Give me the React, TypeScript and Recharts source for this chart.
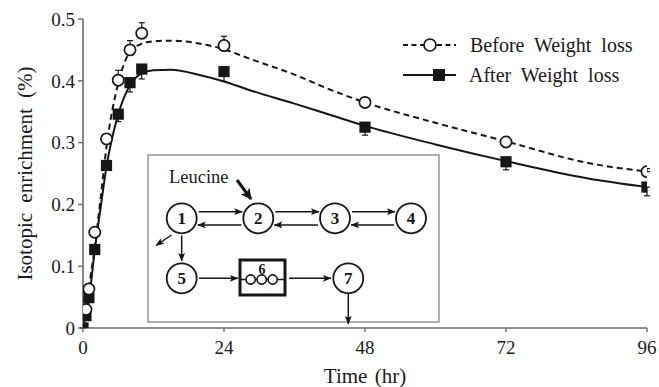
import React from 'react';
import {
  ComposedChart,
  Line,
  Scatter,
  XAxis,
  YAxis,
  ErrorBar,
  Legend,
  Customized,
} from 'recharts';

// ---- data ----
const beforeTimes = [0.5, 1, 2, 4, 6, 8, 10, 24, 48, 72, 96];
const beforeMean = [0.03, 0.063, 0.155, 0.306, 0.401, 0.45, 0.477, 0.457, 0.365, 0.301, 0.253];
const beforeErrUp = [0.004, 0.004, 0.005, 0.006, 0.016, 0.015, 0.017, 0.015, 0.006, 0.005, 0.005];

const afterTimes = [0, 0.5, 1, 2, 4, 6, 8, 10, 24, 48, 72, 96];
const afterMean = [0, 0.02, 0.049, 0.127, 0.263, 0.346, 0.397, 0.419, 0.415, 0.325, 0.269, 0.228];
const afterErrDown = [0, 0.004, 0.005, 0.006, 0.008, 0.012, 0.015, 0.016, 0.016, 0.013, 0.013, 0.014];

const fitTimes = [0, 0.5, 1, 2, 3, 4, 6, 8, 10, 12, 15, 20, 24, 28, 36, 42, 48, 60, 72, 86, 96];
const beforeFit = [0, 0.03, 0.065, 0.13, 0.21, 0.293, 0.396, 0.447, 0.46, 0.464, 0.465, 0.46, 0.451, 0.437, 0.41, 0.386, 0.365, 0.332, 0.302, 0.267, 0.253];
const afterFit = [0, 0.02, 0.045, 0.126, 0.195, 0.261, 0.346, 0.393, 0.412, 0.417, 0.418, 0.409, 0.399, 0.386, 0.363, 0.345, 0.327, 0.297, 0.27, 0.242, 0.228];

const xTicks = [0, 24, 48, 72, 96];
const yTicks = [0, 0.1, 0.2, 0.3, 0.4, 0.5];

const seriesNames = ['Before Weight loss', 'After Weight loss'];

// ---- tables built from the arrays ----
const beforePts = beforeTimes.map((t, i) => ({ t, v: beforeMean[i], err: [0, beforeErrUp[i]] }));
const afterPts = afterTimes.map((t, i) => ({ t, v: afterMean[i], err: [afterErrDown[i], 0] }));
const beforeCurve = fitTimes.map((t, i) => ({ t, v: beforeFit[i] }));
const afterCurve = fitTimes.map((t, i) => ({ t, v: afterFit[i] }));

const FONT = '"Liberation Serif", "Times New Roman", serif';
const INK = '#161616';
const AXIS = '#6a6a6a';

const OpenCircle = (p: any) => (
  <circle cx={p.cx} cy={p.cy} r={5.6} fill="#fff" stroke={INK} strokeWidth={1.7} />
);
const FilledSquare = (p: any) => (
  <rect x={p.cx - 5.6} y={p.cy - 5.6} width={11.2} height={11.2} fill={INK} />
);

const LegendContent = () => (
  <div style={{ position: 'relative', width: 259, height: 60, fontFamily: FONT }}>
    <svg width={56} height={26} style={{ position: 'absolute', left: 3, top: 0 }}>
      <line x1={0} y1={13} x2={53} y2={13} stroke={INK} strokeWidth={1.8} strokeDasharray="5 3.5" />
      <circle cx={27} cy={13} r={6} fill="#fff" stroke={INK} strokeWidth={1.7} />
    </svg>
    <span
      style={{
        position: 'absolute',
        left: 70,
        top: 0,
        lineHeight: '26px',
        fontSize: 20,
        color: '#1a1a1a',
        wordSpacing: 5,
        whiteSpace: 'nowrap',
      }}
    >
      {seriesNames[0]}
    </span>
    <svg width={56} height={26} style={{ position: 'absolute', left: 3, top: 30 }}>
      <line x1={0} y1={13} x2={53} y2={13} stroke={INK} strokeWidth={2.2} />
      <rect x={30} y={7} width={12} height={12} fill={INK} />
    </svg>
    <span
      style={{
        position: 'absolute',
        left: 69,
        top: 30,
        lineHeight: '26px',
        fontSize: 20,
        color: '#1a1a1a',
        wordSpacing: 5,
        whiteSpace: 'nowrap',
      }}
    >
      {seriesNames[1]}
    </span>
  </div>
);

const Node = ({ cx, cy, label }: { cx: number; cy: number; label: string }) => (
  <g>
    <circle cx={cx} cy={cy} r={15} fill="#fff" stroke={INK} strokeWidth={1.8} />
    <text
      x={cx}
      y={cy + 6}
      textAnchor="middle"
      fontFamily={FONT}
      fontWeight="bold"
      fontSize={17}
      fill={INK}
    >
      {label}
    </text>
  </g>
);

const Arrow = ({ x1, y1, x2, y2, w = 1.5, big = false }: any) => (
  <line
    x1={x1}
    y1={y1}
    x2={x2}
    y2={y2}
    stroke={INK}
    strokeWidth={w}
    markerEnd={big ? 'url(#arrowBig)' : 'url(#arrowSmall)'}
  />
);

const InsetDiagram = () => {
  const rowY = 218.3;
  const row2Y = 278.3;
  const cxs = [181.7, 258.3, 335, 411];
  const pairs = [0, 1, 2];
  return (
    <g>
      <defs>
        <marker id="arrowSmall" markerUnits="userSpaceOnUse" markerWidth={9} markerHeight={8} refX={8} refY={4} orient="auto">
          <path d="M0,0.6 L8.5,4 L0,7.4 L1.8,4 Z" fill={INK} />
        </marker>
        <marker id="arrowBig" markerUnits="userSpaceOnUse" markerWidth={12} markerHeight={11} refX={10} refY={5.5} orient="auto">
          <path d="M0,0 L11,5.5 L0,11 L2.5,5.5 Z" fill={INK} />
        </marker>
      </defs>
      <rect x={148} y={155} width={291} height={167} fill="#fff" stroke="#7a7a7a" strokeWidth={1.2} />
      <text x={169} y={182.5} fontFamily={FONT} fontSize={18.5} fill="#1a1a1a">
        Leucine
      </text>
      <Arrow x1={237} y1={180} x2={251} y2={199} w={3} big />
      {pairs.map((i) => (
        <g key={i}>
          <Arrow x1={cxs[i] + 17} y1={rowY - 6.6} x2={cxs[i + 1] - 16} y2={rowY - 6.6} />
          <Arrow x1={cxs[i + 1] - 17} y1={rowY + 6.6} x2={cxs[i] + 16} y2={rowY + 6.6} />
        </g>
      ))}
      {cxs.map((cx, i) => (
        <Node key={i} cx={cx} cy={rowY} label={String(i + 1)} />
      ))}
      <Arrow x1={171.5} y1={235} x2={156} y2={245.5} />
      <Arrow x1={cxs[0]} y1={235.5} x2={cxs[0]} y2={261} />
      <Node cx={cxs[0]} cy={row2Y} label="5" />
      <Arrow x1={199} y1={row2Y} x2={238} y2={row2Y} />
      <rect x={240} y={260} width={45} height={35} fill="#fff" stroke={INK} strokeWidth={3} />
      <line x1={240} y1={279.5} x2={285} y2={279.5} stroke={INK} strokeWidth={1.3} />
      {[250.7, 261.7, 272.7].map((x) => (
        <circle key={x} cx={x} cy={279.5} r={4.6} fill="#fff" stroke={INK} strokeWidth={1.6} />
      ))}
      <text x={262} y={274} textAnchor="middle" fontFamily={FONT} fontWeight="bold" fontSize={14} fill={INK}>
        6
      </text>
      <Arrow x1={289} y1={row2Y} x2={331} y2={row2Y} />
      <Node cx={348.3} cy={row2Y} label="7" />
      <Arrow x1={348.3} y1={294} x2={348.3} y2={324} />
    </g>
  );
};

const YTitle = (props: any) => {
  const vb = props.viewBox || { y: 19, height: 309 };
  const cy = vb.y + vb.height / 2;
  return (
    <text
      x={25}
      y={cy}
      transform={`rotate(-90, 25, ${cy})`}
      textAnchor="middle"
      dominantBaseline="central"
      fontFamily={FONT}
      fontSize={21}
      fill="#1a1a1a"
      style={{ wordSpacing: 5 }}
    >
      Isotopic enrichment (%)
    </text>
  );
};

const XTitle = (props: any) => {
  const vb = props.viewBox || { x: 83, width: 564 };
  const cx = vb.x + vb.width / 2;
  return (
    <text x={cx} y={383} textAnchor="middle" fontFamily={FONT} fontSize={21} fill="#1a1a1a" style={{ wordSpacing: 2 }}>
      Time (hr)
    </text>
  );
};

export default function App() {
  return (
    <div style={{ position: 'absolute', left: 0, top: 0, width: 659, height: 387, background: '#fff' }}>
      <ComposedChart
        width={659}
        height={387}
        margin={{ top: 19, right: 12, bottom: 0, left: 0 }}
        style={{ fontFamily: FONT }}
      >
        <XAxis
          dataKey="t"
          type="number"
          domain={[0, 96]}
          ticks={xTicks}
          allowDataOverflow
          height={59}
          tickSize={4}
          tickMargin={9}
          axisLine={{ stroke: AXIS, strokeWidth: 1.6 }}
          tickLine={{ stroke: AXIS, strokeWidth: 1.4 }}
          tick={{ fill: '#1a1a1a', fontSize: 19, fontFamily: FONT }}
          label={{ content: XTitle }}
        />
        <YAxis
          type="number"
          domain={[0, 0.5]}
          ticks={yTicks}
          allowDataOverflow
          width={83}
          tickSize={5}
          tickMargin={3}
          axisLine={{ stroke: AXIS, strokeWidth: 1.6 }}
          tickLine={{ stroke: AXIS, strokeWidth: 1.4 }}
          tick={{ fill: '#1a1a1a', fontSize: 19, fontFamily: FONT }}
          tickFormatter={(v: number) => (v === 0 ? '0' : v.toFixed(1))}
          label={{ content: YTitle }}
        />
        <Legend
          layout="vertical"
          align="center"
          verticalAlign="middle"
          content={LegendContent}
          wrapperStyle={{ left: 400, top: 32, width: 259, height: 60 }}
        />
        <Customized component={InsetDiagram} />
        <Line
          data={afterCurve}
          dataKey="v"
          type="monotone"
          stroke={INK}
          strokeWidth={2}
          dot={false}
          activeDot={false}
          isAnimationActive={false}
          legendType="none"
        />
        <Line
          data={beforeCurve}
          dataKey="v"
          type="monotone"
          stroke={INK}
          strokeWidth={2}
          strokeDasharray="6 4"
          dot={false}
          activeDot={false}
          isAnimationActive={false}
          legendType="none"
        />
        <Scatter
          name={seriesNames[1]}
          data={afterPts}
          dataKey="v"
          shape={FilledSquare}
          isAnimationActive={false}
        >
          <ErrorBar dataKey="err" direction="y" width={3} stroke={INK} strokeWidth={1.2} />
        </Scatter>
        <Scatter
          name={seriesNames[0]}
          data={beforePts}
          dataKey="v"
          shape={OpenCircle}
          isAnimationActive={false}
        >
          <ErrorBar dataKey="err" direction="y" width={3} stroke={INK} strokeWidth={1.2} />
        </Scatter>
      </ComposedChart>
    </div>
  );
}
